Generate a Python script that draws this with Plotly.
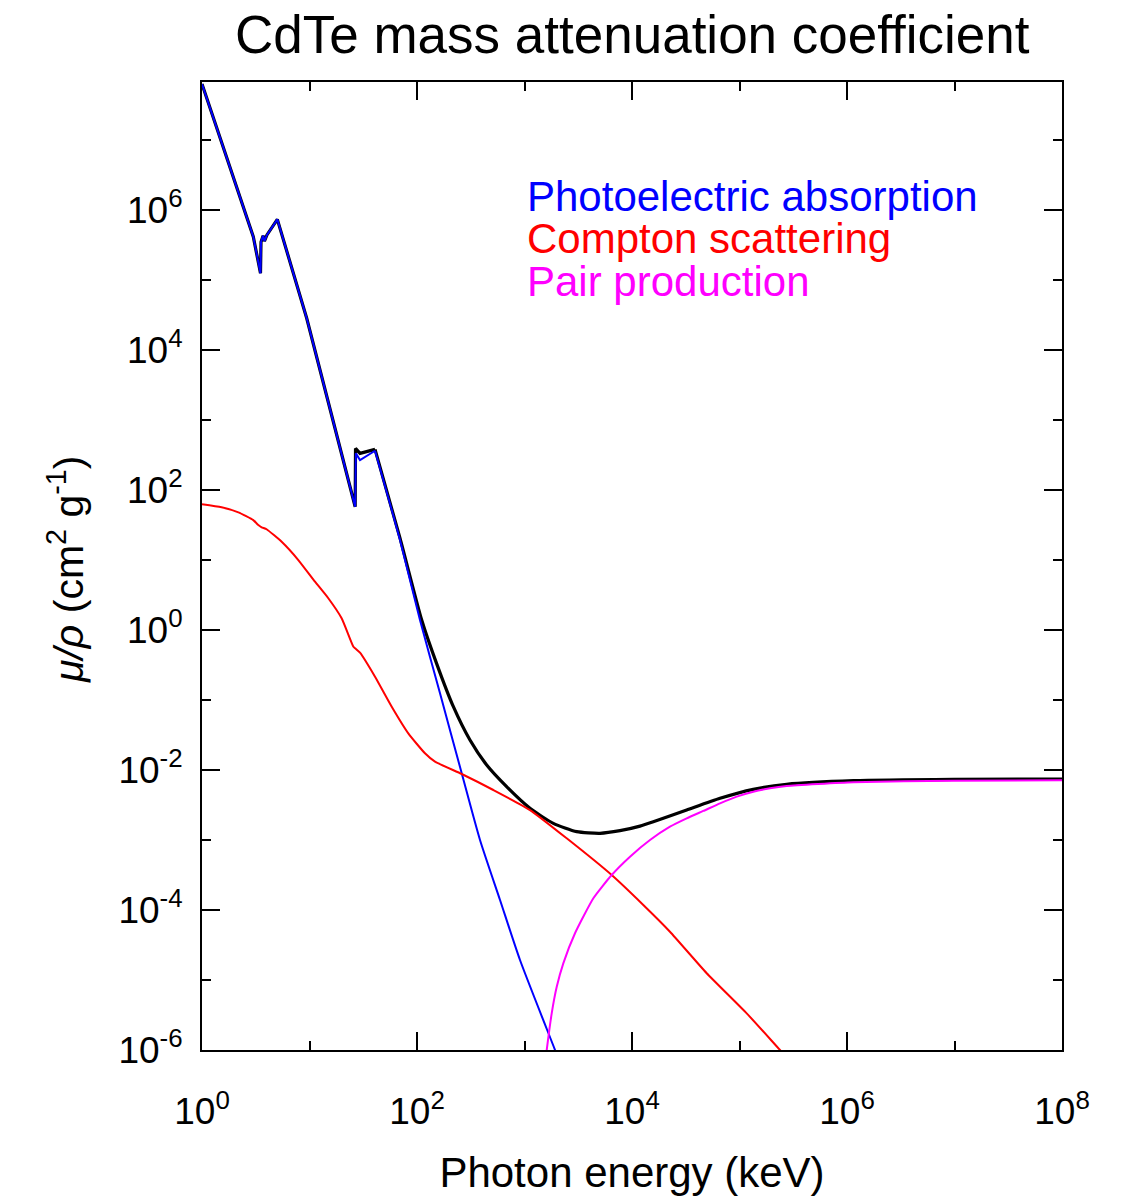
import plotly.graph_objects as go

# ---- data (energy in keV, mu/rho in cm^2/g) ----
photo_E = [1.0, 2.0, 3.0, 3.50, 3.54, 3.70, 3.81, 4.02, 5.02, 9.42, 26.6, 27.0, 29.5, 40.7,
           69.5, 106.6, 163.7, 260.6, 385.5, 592, 908, 1923, 2140]
photo_mu = [6.3e7, 2.6e6, 4.16e5, 1.25e5, 3.5e5, 4.3e5, 3.6e5, 4.4e5, 7.36e5, 2.84e4, 57.7, 334, 268, 364,
            19.3, 1.39, 0.125, 8.97e-3, 1.0e-3, 1.39e-4, 1.93e-5, 1.0e-6, 6.5e-7]

total_E = [1.0, 2.0, 3.0, 3.50, 3.54, 3.70, 3.81, 4.02, 5.02, 9.42, 26.6, 26.8, 29.5, 40.7,
           69.5, 110.6, 152, 218, 311, 445, 682, 1125, 1854, 3060, 5040, 7730, 11870, 15780,
           32260, 65900, 134400, 274600, 1.15e6, 9.77e6, 1e8]
total_mu = [6.3e7, 2.6e6, 4.16e5, 1.25e5, 3.5e5, 4.3e5, 3.6e5, 4.4e5, 7.36e5, 2.84e4, 57.7, 393, 334, 381,
            20.5, 1.39, 0.334, 0.0802, 0.0268, 0.01178, 5.78e-3, 2.84e-3, 1.73e-3, 1.315e-3, 1.247e-3,
            1.358e-3, 1.58e-3, 1.82e-3, 2.68e-3, 3.94e-3, 5.3e-3, 6.25e-3, 7.03e-3, 7.36e-3, 7.44e-3]

compton_E = [1.0, 1.52, 2.18, 3.0, 3.34, 3.59, 3.99, 5.51, 7.87, 11.25, 14.96, 19.9, 25.6, 26.6, 29.5,
             40.7, 58.2, 83, 118.6, 147, 260.6, 513, 1125, 2470, 6470, 12740, 22550, 49540,
             116700, 238000, 295000]
compton_mu = [62.5, 56.6, 47.9, 37.2, 31.6, 29.3, 27.5, 18.2, 10.0, 4.9, 2.84, 1.47, 0.577, 0.548, 0.474,
              0.215, 0.0802, 0.0334, 0.01734, 0.01315, 8.77e-3, 5.18e-3, 2.68e-3, 1.057e-3, 3.16e-4,
              1.18e-4, 4.9e-5, 1.25e-5, 3.34e-6, 1.0e-6, 7.0e-7]

pair_E = [1565, 1610, 1791, 1995, 2296, 2950, 4370, 6470, 9580, 14700, 22550, 32260, 46000, 65900,
          94200, 134400, 192300, 274600, 1.15e6, 9.77e6, 1e8]
pair_mu = [6.9e-7, 1.0e-6, 3.34e-6, 8.0e-6, 1.73e-5, 4.65e-5, 1.47e-4, 3.16e-4, 5.78e-4, 1.0e-3, 1.55e-3,
           2.04e-3, 2.6e-3, 3.34e-3, 4.16e-3, 4.9e-3, 5.48e-3, 5.9e-3, 6.67e-3, 7.03e-3, 7.13e-3]

x_major = [1, 1e2, 1e4, 1e6, 1e8]
x_major_text = ["10<sup>0</sup>", "10<sup>2</sup>", "10<sup>4</sup>", "10<sup>6</sup>", "10<sup>8</sup>"]
x_minor = [10, 1e3, 1e5, 1e7]
y_major = [1e-6, 1e-4, 1e-2, 1, 1e2, 1e4, 1e6]
y_major_text = ["10<sup>-6</sup>", "10<sup>-4</sup>", "10<sup>-2</sup>", "10<sup>0</sup>",
                "10<sup>2</sup>", "10<sup>4</sup>", "10<sup>6</sup>"]
y_minor = [1e-5, 1e-3, 1e-1, 10, 1e3, 1e5, 1e7]

legend_labels = ["Photoelectric absorption", "Compton scattering", "Pair production"]
legend_colors = ["#0000ff", "#ff0000", "#ff00ff"]

FONT = "Liberation Sans, Arial, Helvetica, sans-serif"

# index where the smooth (edge-free) part of the curves begins
K_PEAK = 40.7
ti = total_E.index(K_PEAK)
pi_ = photo_E.index(K_PEAK)

fig = go.Figure()
# total: edge region drawn as straight segments, smooth tail as spline
fig.add_trace(go.Scatter(x=total_E[:ti + 1], y=total_mu[:ti + 1], mode="lines",
                         line=dict(color="black", width=3.2)))
fig.add_trace(go.Scatter(x=total_E[ti:], y=total_mu[ti:], mode="lines",
                         line=dict(color="black", width=3.2, shape="spline", smoothing=0.6)))
fig.add_trace(go.Scatter(x=photo_E[:pi_ + 1], y=photo_mu[:pi_ + 1], mode="lines",
                         line=dict(color=legend_colors[0], width=2)))
fig.add_trace(go.Scatter(x=photo_E[pi_:], y=photo_mu[pi_:], mode="lines",
                         line=dict(color=legend_colors[0], width=2, shape="spline", smoothing=0.6)))
fig.add_trace(go.Scatter(x=compton_E, y=compton_mu, mode="lines",
                         line=dict(color=legend_colors[1], width=2, shape="spline", smoothing=0.5)))
fig.add_trace(go.Scatter(x=pair_E, y=pair_mu, mode="lines",
                         line=dict(color=legend_colors[2], width=2, shape="spline", smoothing=0.5)))

axis_common = dict(
    type="log", showgrid=False, zeroline=False, showline=True, linecolor="black", linewidth=2,
    mirror="ticks", ticks="inside", ticklen=18, tickwidth=2, tickcolor="black",
    tickfont=dict(family=FONT, size=37, color="black"),
)

fig.update_xaxes(**axis_common, range=[0, 8], tickmode="array", tickvals=x_major, ticktext=x_major_text,
                 ticklabelstandoff=28,
                 minor=dict(tickmode="array", tickvals=x_minor, ticks="inside", ticklen=9,
                            tickwidth=2, tickcolor="black", showgrid=False),
                 title=dict(text="Photon energy (keV)", font=dict(family=FONT, size=42, color="black"),
                            standoff=26))
fig.update_yaxes(**axis_common, range=[-6, 7.829], tickmode="array", tickvals=y_major, ticktext=y_major_text,
                 ticklabelstandoff=10,
                 minor=dict(tickmode="array", tickvals=y_minor, ticks="inside", ticklen=9,
                            tickwidth=2, tickcolor="black", showgrid=False))

annotations = [
    dict(text="<i>μ/ρ</i> (cm<sup>2</sup> g<sup>-1</sup>)", xref="paper", yref="paper",
         x=-0.158, y=0.496, xanchor="center", yanchor="middle", textangle=-90, showarrow=False,
         font=dict(family=FONT, size=41, color="black")),
]
legend_y = [0.882, 0.838, 0.794]
for lab, col, yy in zip(legend_labels, legend_colors, legend_y):
    annotations.append(dict(text=lab, xref="paper", yref="paper", x=0.376, y=yy, xanchor="left",
                            yanchor="middle", showarrow=False,
                            font=dict(family=FONT, size=42, color=col)))

fig.update_layout(
    width=1124, height=1199,
    margin=dict(l=202, r=62, t=82, b=149),
    paper_bgcolor="white", plot_bgcolor="white",
    showlegend=False,
    title=dict(text="CdTe mass attenuation coefficient", x=0.5625, xanchor="center", y=0.971, yanchor="middle",
               font=dict(family=FONT, size=53, color="black")),
    annotations=annotations,
)

fig.write_html("out.html")
